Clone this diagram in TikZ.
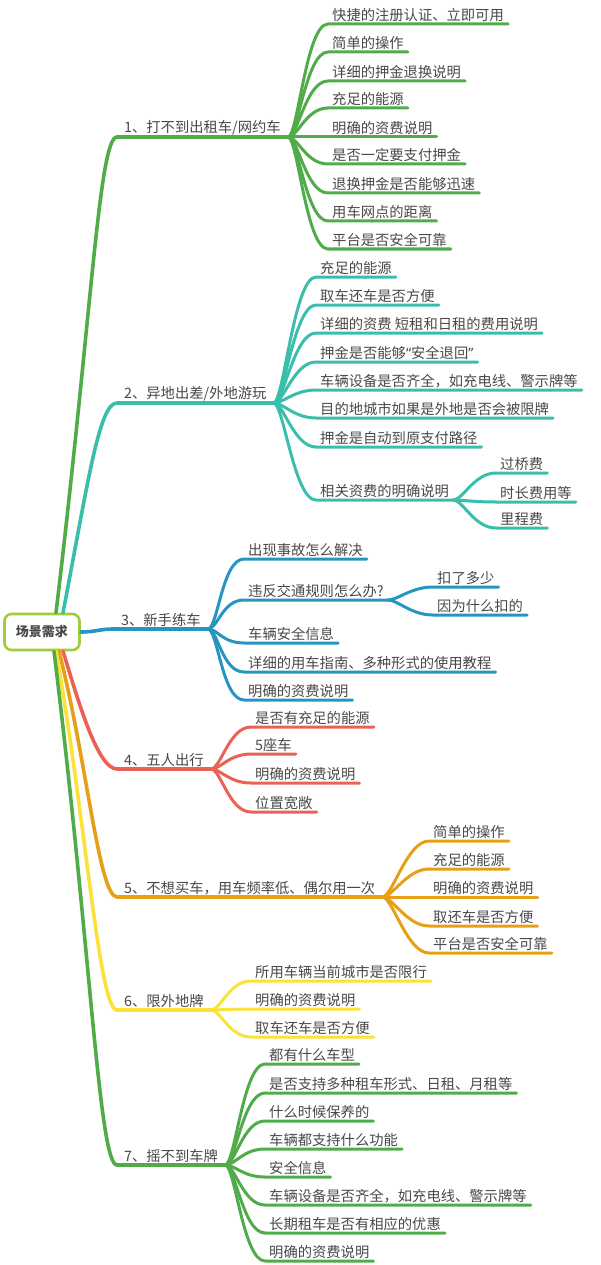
\documentclass[tikz,border=0pt]{standalone}
\usepackage{fontspec}
\setmainfont{Noto Sans CJK SC}
\newfontfamily\qfont{Noto Sans}
\usepackage{tikz}
\usetikzlibrary{positioning}
\definecolor{cgreen}{RGB}{80,172,72}
\definecolor{cteal}{RGB}{58,190,172}
\definecolor{cblue}{RGB}{38,150,192}
\definecolor{cred}{RGB}{234,98,84}
\definecolor{corange}{RGB}{230,160,22}
\definecolor{cyellow}{RGB}{250,226,56}
\definecolor{croot}{RGB}{160,205,60}
\definecolor{ctext}{RGB}{72,72,72}

\begin{document}
\begin{tikzpicture}[x=1pt,y=-1pt,line cap=round,line join=round,
  every node/.style={text=ctext,font=\fontsize{14.3}{16}\selectfont},
  root/.style={draw=croot,line width=2.6pt,rounded corners=7pt,fill=white,minimum width=75pt,minimum height=36pt,font=\fontsize{13}{15}\selectfont\bfseries},
  topic/.style={anchor=south west,inner xsep=7pt,inner ysep=2pt},
  leaf/.style={anchor=south west,inner xsep=4pt,inner ysep=2pt},
  lk/.style={line width=3pt},
  tk/.style={line width=3.6pt}]
\useasboundingbox (0,0) rectangle (600,1265);

\node[root] (root) at (42,632) {场景需求};

\node[topic] (b1) at (117,137) {1、打不到出租车/网约车};
\node[topic] (b2) at (117,403) {2、异地出差/外地游玩};
\node[topic] (b3) at (114,629) {3、新手练车};
\node[topic] (b4) at (117,769) {4、五人出行};
\node[topic] (b5) at (117,897) {5、不想买车，用车频率低、偶尔用一次};
\node[topic] (b6) at (117,1010) {6、限外地牌};
\node[topic] (b7) at (117,1165) {7、摇不到车牌};

\draw[tk,cgreen] ([xshift=14pt]root.north) .. controls +(36,-300) and +(-18,0) .. (b1.south west) -- (b1.south east);
\draw[tk,cteal] ([xshift=21pt]root.north) .. controls +(25,-130) and +(-18,0) .. (b2.south west) -- (b2.south east);
\draw[tk,cblue] (root.east) .. controls +(15,0) and +(-15,0) .. (b3.south west) -- (b3.south east);
\draw[tk,cred] ([xshift=21pt]root.south) .. controls +(14,45) and +(-20,0) .. (b4.south west) -- (b4.south east);
\draw[tk,corange] ([xshift=17pt]root.south) .. controls +(28,110) and +(-18,0) .. (b5.south west) -- (b5.south east);
\draw[tk,cyellow] ([xshift=14pt]root.south) .. controls +(30,170) and +(-18,0) .. (b6.south west) -- (b6.south east);
\draw[tk,cgreen] ([xshift=12pt]root.south) .. controls +(37,300) and +(-18,0) .. (b7.south west) -- (b7.south east);

\foreach \y/\t [count=\i] in {24/快捷的注册认证、立即可用,52/简单的操作,81/详细的押金退换说明,108/充足的能源,137/明确的资费说明,164/是否一定要支付押金,193/退换押金是否能够迅速,221/用车网点的距离,249/平台是否安全可靠}{
  \node[leaf] (b1-\i) at (328,\y) {\t};
  \draw[lk,cgreen] (b1.south east) .. controls +(10,0) and +(-22,0) .. (b1-\i.south west) -- (b1-\i.south east);
}

\foreach \y/\t [count=\i] in {277/充足的能源,305/取车还车是否方便,333/详细的资费 短租和日租的费用说明,362/押金是否能够{\qfont“}安全退回{\qfont”},390/车辆设备是否齐全，如充电线、警示牌等,418/目的地城市如果是外地是否会被限牌,447/押金是自动到原支付路径,500/相关资费的明确说明}{
  \node[leaf] (b2-\i) at (316,\y) {\t};
  \draw[lk,cteal] (b2.south east) .. controls +(10,0) and +(-22,0) .. (b2-\i.south west) -- (b2-\i.south east);
}
\foreach \y/\t [count=\i] in {473/过桥费,502/时长费用等,528/里程费}{
  \node[leaf] (b2-8-\i) at (496,\y) {\t};
  \draw[lk,cteal] (b2-8.south east) .. controls +(10,0) and +(-22,0) .. (b2-8-\i.south west) -- (b2-8-\i.south east);
}

\foreach \y/\t [count=\i] in {559/出现事故怎么解决,600/违反交通规则怎么办?,643/车辆安全信息,672/详细的用车指南、多种形式的使用教程,700/明确的资费说明}{
  \node[leaf] (b3-\i) at (244,\y) {\t};
  \draw[lk,cblue] (b3.south east) .. controls +(10,0) and +(-22,0) .. (b3-\i.south west) -- (b3-\i.south east);
}
\foreach \y/\t [count=\i] in {587/扣了多少,615/因为什么扣的}{
  \node[leaf] (b3-2-\i) at (433,\y) {\t};
  \draw[lk,cblue] (b3-2.south east) .. controls +(10,0) and +(-22,0) .. (b3-2-\i.south west) -- (b3-2-\i.south east);
}

\foreach \y/\t [count=\i] in {727/是否有充足的能源,754/5座车,783/明确的资费说明,812/位置宽敞}{
  \node[leaf] (b4-\i) at (251,\y) {\t};
  \draw[lk,cred] (b4.south east) .. controls +(10,0) and +(-22,0) .. (b4-\i.south west) -- (b4-\i.south east);
}

\foreach \y/\t [count=\i] in {841/简单的操作,869/充足的能源,897/明确的资费说明,926/取还车是否方便,953/平台是否安全可靠}{
  \node[leaf] (b5-\i) at (429,\y) {\t};
  \draw[lk,corange] (b5.south east) .. controls +(10,0) and +(-22,0) .. (b5-\i.south west) -- (b5-\i.south east);
}

\foreach \y/\t [count=\i] in {981/所用车辆当前城市是否限行,1009/明确的资费说明,1037/取车还车是否方便}{
  \node[leaf] (b6-\i) at (251,\y) {\t};
  \draw[lk,cyellow] (b6.south east) .. controls +(10,0) and +(-22,0) .. (b6-\i.south west) -- (b6-\i.south east);
}

\foreach \y/\t [count=\i] in {1064/都有什么车型,1093/是否支持多种租车形式、日租、月租等,1121/什么时候保养的,1149/车辆都支持什么功能,1177/安全信息,1205/车辆设备是否齐全，如充电线、警示牌等,1233/长期租车是否有相应的优惠,1261/明确的资费说明}{
  \node[leaf] (b7-\i) at (265,\y) {\t};
  \draw[lk,cgreen] (b7.south east) .. controls +(10,0) and +(-22,0) .. (b7-\i.south west) -- (b7-\i.south east);
}
\end{tikzpicture}
\end{document}
